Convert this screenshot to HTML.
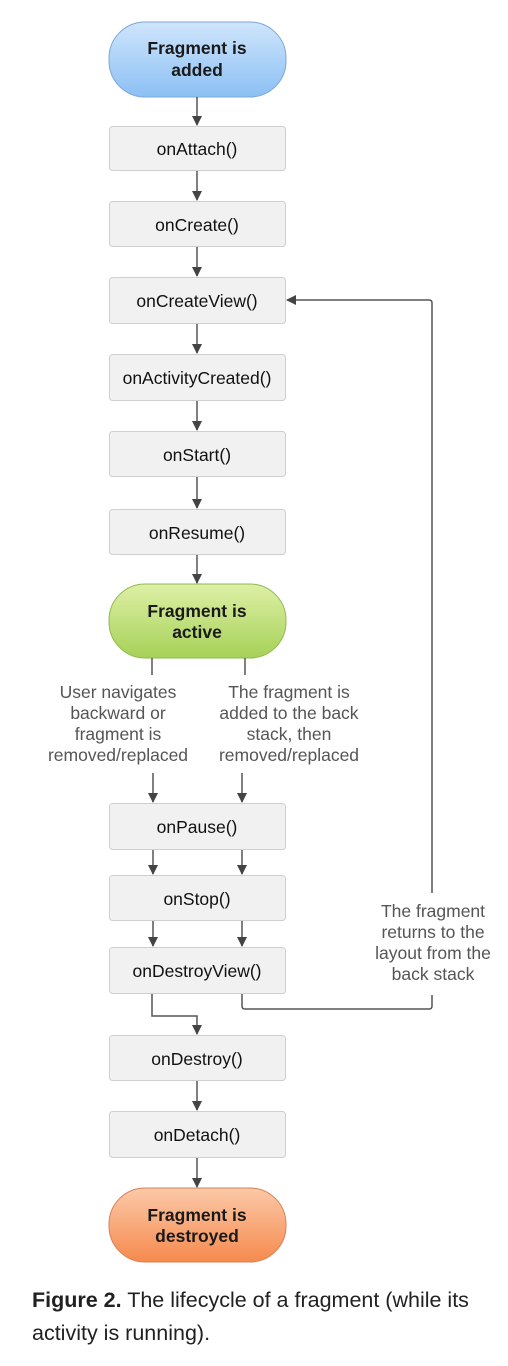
<!DOCTYPE html>
<html><head><meta charset="utf-8"><style>
html,body{margin:0;padding:0;background:#fff;width:508px;height:1366px;overflow:hidden}
svg{display:block}
.b{fill:#f1f1f1;stroke:#cfcfcf;stroke-width:1}
.t{font-family:"Liberation Sans",Arial,sans-serif;font-size:17.5px;fill:#111;text-anchor:middle}
.p{font-family:"Liberation Sans",Arial,sans-serif;font-size:17.5px;font-weight:bold;fill:#1a1a1a;text-anchor:middle}
.l{font-family:"Liberation Sans",Arial,sans-serif;font-size:17.5px;fill:#555;text-anchor:middle}
.ln{stroke:#555;stroke-width:1.5;fill:none}
.c{font-family:"Liberation Sans",Arial,sans-serif;font-size:21.5px;fill:#212121}
</style></head><body>
<svg width="508" height="1366" viewBox="0 0 508 1366" xmlns="http://www.w3.org/2000/svg">
<defs>
<linearGradient id="gb" x1="0" y1="0" x2="0" y2="1"><stop offset="0" stop-color="#cfe5fc"/><stop offset="1" stop-color="#8cc0f4"/></linearGradient>
<linearGradient id="gg" x1="0" y1="0" x2="0" y2="1"><stop offset="0" stop-color="#def0a6"/><stop offset="1" stop-color="#a6d158"/></linearGradient>
<linearGradient id="go" x1="0" y1="0" x2="0" y2="1"><stop offset="0" stop-color="#fcc9a8"/><stop offset="1" stop-color="#f58a4e"/></linearGradient>
<marker id="a" markerWidth="10" markerHeight="10" refX="9" refY="5" orient="auto" markerUnits="userSpaceOnUse" viewBox="0 0 10 10">
<path d="M0,0 L10,5 L0,10 z" fill="#444"/></marker>
</defs>

<rect x="109" y="22" width="177" height="75" rx="36" fill="url(#gb)" stroke="#7ca7d8"/>
<text class="p" x="197" y="54">Fragment is</text><text class="p" x="197" y="76">added</text>

<rect x="109" y="584" width="177" height="74" rx="36" fill="url(#gg)" stroke="#93b94e"/>
<text class="p" x="197" y="617">Fragment is</text><text class="p" x="197" y="638">active</text>

<rect x="109" y="1188" width="177" height="74" rx="36" fill="url(#go)" stroke="#d98055"/>
<text class="p" x="197" y="1221">Fragment is</text><text class="p" x="197" y="1242">destroyed</text>

<rect class="b" x="109.5" y="126.5" width="176" height="44" rx="3"/><text class="t" x="197" y="155">onAttach()</text>
<rect class="b" x="109.5" y="201.5" width="176" height="45" rx="3"/><text class="t" x="197" y="231">onCreate()</text>
<rect class="b" x="109.5" y="277.5" width="176" height="46" rx="3"/><text class="t" x="197" y="307">onCreateView()</text>
<rect class="b" x="109.5" y="354.5" width="176" height="46" rx="3"/><text class="t" x="197" y="384">onActivityCreated()</text>
<rect class="b" x="109.5" y="431.5" width="176" height="45" rx="3"/><text class="t" x="197" y="461">onStart()</text>
<rect class="b" x="109.5" y="509.5" width="176" height="45" rx="3"/><text class="t" x="197" y="539">onResume()</text>
<rect class="b" x="109.5" y="803.5" width="176" height="46" rx="3"/><text class="t" x="197" y="833">onPause()</text>
<rect class="b" x="109.5" y="875.5" width="176" height="45" rx="3"/><text class="t" x="197" y="905">onStop()</text>
<rect class="b" x="109.5" y="947.5" width="176" height="46" rx="3"/><text class="t" x="197" y="977">onDestroyView()</text>
<rect class="b" x="109.5" y="1035.5" width="176" height="45" rx="3"/><text class="t" x="197" y="1065">onDestroy()</text>
<rect class="b" x="109.5" y="1111.5" width="176" height="46" rx="3"/><text class="t" x="197" y="1141">onDetach()</text>

<line class="ln" x1="197" y1="97" x2="197" y2="125" marker-end="url(#a)"/>
<line class="ln" x1="197" y1="171" x2="197" y2="200" marker-end="url(#a)"/>
<line class="ln" x1="197" y1="247" x2="197" y2="276" marker-end="url(#a)"/>
<line class="ln" x1="197" y1="324" x2="197" y2="353" marker-end="url(#a)"/>
<line class="ln" x1="197" y1="401" x2="197" y2="430" marker-end="url(#a)"/>
<line class="ln" x1="197" y1="477" x2="197" y2="508" marker-end="url(#a)"/>
<line class="ln" x1="197" y1="555" x2="197" y2="583" marker-end="url(#a)"/>
<line class="ln" x1="197" y1="1081" x2="197" y2="1110" marker-end="url(#a)"/>
<line class="ln" x1="197" y1="1158" x2="197" y2="1187" marker-end="url(#a)"/>

<line class="ln" x1="152" y1="658" x2="152" y2="675"/>
<line class="ln" x1="245" y1="658" x2="245" y2="675"/>
<text class="l" x="118" y="698">User navigates</text>
<text class="l" x="118" y="719">backward or</text>
<text class="l" x="118" y="740">fragment is</text>
<text class="l" x="118" y="761">removed/replaced</text>
<text class="l" x="289" y="698">The fragment is</text>
<text class="l" x="289" y="719">added to the back</text>
<text class="l" x="289" y="740">stack, then</text>
<text class="l" x="289" y="761">removed/replaced</text>

<line class="ln" x1="153" y1="773" x2="153" y2="802" marker-end="url(#a)"/>
<line class="ln" x1="242" y1="773" x2="242" y2="802" marker-end="url(#a)"/>
<line class="ln" x1="153" y1="850" x2="153" y2="874" marker-end="url(#a)"/>
<line class="ln" x1="242" y1="850" x2="242" y2="874" marker-end="url(#a)"/>
<line class="ln" x1="153" y1="921" x2="153" y2="946" marker-end="url(#a)"/>
<line class="ln" x1="242" y1="921" x2="242" y2="946" marker-end="url(#a)"/>

<path class="ln" d="M152,994 V1016 H197 V1034" marker-end="url(#a)"/>
<path class="ln" d="M242,994 V1006 Q242,1009 245,1009 H429 Q432,1009 432,1006 V995"/>
<path class="ln" d="M432,893 V303 Q432,300 429,300 H287" marker-end="url(#a)"/>
<text class="l" x="433" y="917">The fragment</text>
<text class="l" x="433" y="938">returns to the</text>
<text class="l" x="433" y="959">layout from the</text>
<text class="l" x="433" y="980">back stack</text>

<text class="c" x="32" y="1307"><tspan font-weight="bold">Figure 2.</tspan> The lifecycle of a fragment (while its</text>
<text class="c" x="32" y="1340">activity is running).</text>
</svg>
</body></html>
